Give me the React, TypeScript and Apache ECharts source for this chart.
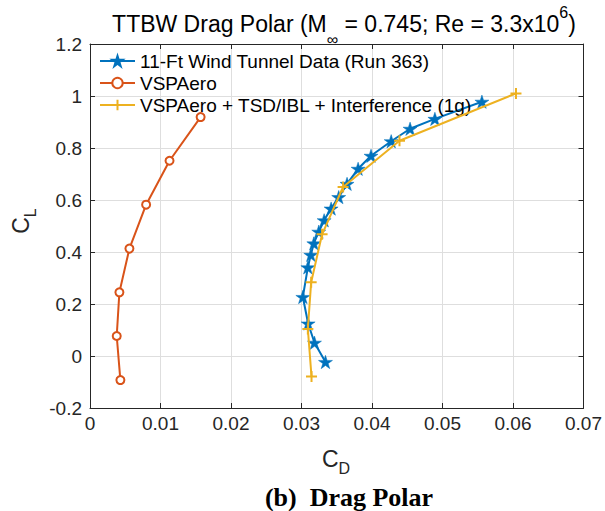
import React, { useEffect, useRef } from "react";
import * as echarts from "echarts";

// ---- data ----
const windTunnelCD = [0.0334, 0.03184, 0.03094, 0.03019, 0.0309, 0.03132, 0.03175, 0.03245, 0.03321, 0.0342, 0.03528, 0.03646, 0.03803, 0.03986, 0.04272, 0.0454, 0.04892, 0.05559];
const windTunnelCL = [-0.023, 0.051, 0.125, 0.227, 0.341, 0.389, 0.433, 0.478, 0.522, 0.567, 0.611, 0.662, 0.72, 0.77, 0.826, 0.874, 0.912, 0.978];

const vspCD = [0.00431, 0.00379, 0.00417, 0.00559, 0.00796, 0.01128, 0.01569];
const vspCL = [-0.0925, 0.077, 0.245, 0.413, 0.582, 0.751, 0.919];

const tsdCD = [0.03142, 0.0309, 0.03137, 0.03292, 0.0359, 0.0439, 0.06042];
const tsdCL = [-0.079, 0.104, 0.284, 0.468, 0.65, 0.828, 1.01];

const seriesNames = [
  "11-Ft Wind Tunnel Data (Run 363)",
  "VSPAero",
  "VSPAero + TSD/IBL + Interference (1g)",
];

const xMin = 0, xMax = 0.07, xStep = 0.01;
const yMin = -0.2, yMax = 1.2, yStep = 0.2;

const pair = (xs: number[], ys: number[]) => xs.map((x, i) => [x, ys[i]]);

const STAR = "path://M0,-10L2.245,-3.09L9.511,-3.09L3.633,1.18L5.878,8.09L0,3.82L-5.878,8.09L-3.633,1.18L-9.511,-3.09L-2.245,-3.09Z";
const PLUS = "path://M0,5L10,5M5,0L5,10";

const FONT = "Liberation Sans, Arial, Helvetica, sans-serif";
const AX = "#262626";

export default function App() {
  const ref = useRef<HTMLDivElement>(null);
  useEffect(() => {
    const chart = echarts.init(ref.current!, undefined, { renderer: "svg" });
    const axisCommon = {
      type: "value" as const,
      axisLine: { show: true, onZero: false, lineStyle: { color: AX, width: 1 } },
      axisTick: { show: true, inside: true, length: 5, lineStyle: { color: AX } },
    };
    chart.setOption({
      animation: false,
      backgroundColor: "#ffffff",
      grid: { left: 90, right: 20, top: 44, bottom: 103, containLabel: false },
      xAxis: [
        {
          ...axisCommon,
          position: "bottom",
          min: xMin, max: xMax, interval: xStep,
          axisLabel: {
            margin: 6, fontSize: 19, fontFamily: FONT, color: AX,
            formatter: (v: number) => (Math.abs(v) < 1e-9 ? "0" : v.toFixed(2)),
          },
          splitLine: { show: true, lineStyle: { color: "#dedede", width: 1 } },
        },
        {
          ...axisCommon,
          position: "top",
          min: xMin, max: xMax, interval: xStep,
          axisLabel: { show: false },
          splitLine: { show: false },
        },
      ],
      yAxis: [
        {
          ...axisCommon,
          position: "left",
          min: yMin, max: yMax, interval: yStep,
          axisLabel: {
            margin: 8, fontSize: 19, fontFamily: FONT, color: AX,
            formatter: (v: number) => String(Math.round(v * 10) / 10),
          },
          splitLine: { show: true, lineStyle: { color: "#dedede", width: 1 } },
        },
        {
          ...axisCommon,
          position: "right",
          min: yMin, max: yMax, interval: yStep,
          axisLabel: { show: false },
          splitLine: { show: false },
        },
      ],
      legend: {
        orient: "vertical",
        left: 99,
        top: 51,
        itemWidth: 35,
        itemHeight: 13,
        itemGap: 2,
        padding: 0,
        textStyle: { fontSize: 19, fontFamily: FONT, color: "#000", lineHeight: 20 },
        data: seriesNames,
      },
      series: [
        {
          name: seriesNames[0],
          type: "line",
          data: pair(windTunnelCD, windTunnelCL),
          lineStyle: { color: "#0072BD", width: 2 },
          itemStyle: { color: "#0072BD", borderColor: "#0072BD", borderWidth: 0.5 },
          symbol: STAR,
          symbolSize: [14, 13.3],
          z: 3,
        },
        {
          name: seriesNames[1],
          type: "line",
          data: pair(vspCD, vspCL),
          lineStyle: { color: "#D95319", width: 2 },
          itemStyle: { color: "#D95319", borderColor: "#D95319", borderWidth: 2 },
          symbol: "emptyCircle",
          symbolSize: 8,
          z: 2,
        },
        {
          name: seriesNames[2],
          type: "line",
          data: pair(tsdCD, tsdCL),
          lineStyle: { color: "#EDB120", width: 2 },
          itemStyle: { color: "#EDB120", borderColor: "#EDB120", borderWidth: 2 },
          symbol: PLUS,
          symbolSize: 11,
          z: 4,
        },
      ],
      graphic: [
        {
          type: "text",
          x: 344,
          y: 24,
          style: {
            text: "{a|TTBW Drag Polar (M}{sub|∞}{a| = 0.745; Re = 3.3x10}{sup|6}{a|)}",
            align: "center",
            verticalAlign: "middle",
            rich: {
              a: { fontSize: 23, fontFamily: FONT, fill: "#000", lineHeight: 24 },
              sub: { fontSize: 16, fontFamily: FONT, fill: "#000", lineHeight: 16, padding: [30, 0, 0, 0] },
              sup: { fontSize: 16, fontFamily: FONT, fill: "#000", lineHeight: 16, padding: [0, 0, 24, 0] },
            },
          },
        },
        {
          type: "text",
          x: 336,
          y: 459,
          style: {
            text: "{a|C}{sub|D}",
            align: "center",
            verticalAlign: "middle",
            rich: {
              a: { fontSize: 23, fontFamily: FONT, fill: AX, lineHeight: 24 },
              sub: { fontSize: 16, fontFamily: FONT, fill: AX, lineHeight: 16, padding: [18, 0, 0, 0] },
            },
          },
        },
        {
          type: "text",
          x: 21,
          y: 221,
          rotation: Math.PI / 2,
          style: {
            text: "{a|C}{sub|L}",
            align: "center",
            verticalAlign: "middle",
            rich: {
              a: { fontSize: 23, fontFamily: FONT, fill: AX, lineHeight: 24 },
              sub: { fontSize: 16, fontFamily: FONT, fill: AX, lineHeight: 16, padding: [18, 0, 0, 0] },
            },
          },
        },
        {
          type: "text",
          x: 349,
          y: 497,
          style: {
            text: "(b)  Drag Polar",
            align: "center",
            verticalAlign: "middle",
            fontSize: 26,
            fontWeight: "bold",
            fontFamily: "Liberation Serif, Times New Roman, serif",
            fill: "#000",
          },
        },
      ],
    });
    return () => chart.dispose();
  }, []);
  return (
    <div
      ref={ref}
      style={{ position: "fixed", left: 0, top: 0, width: 605, height: 511, background: "#fff" }}
    />
  );
}
